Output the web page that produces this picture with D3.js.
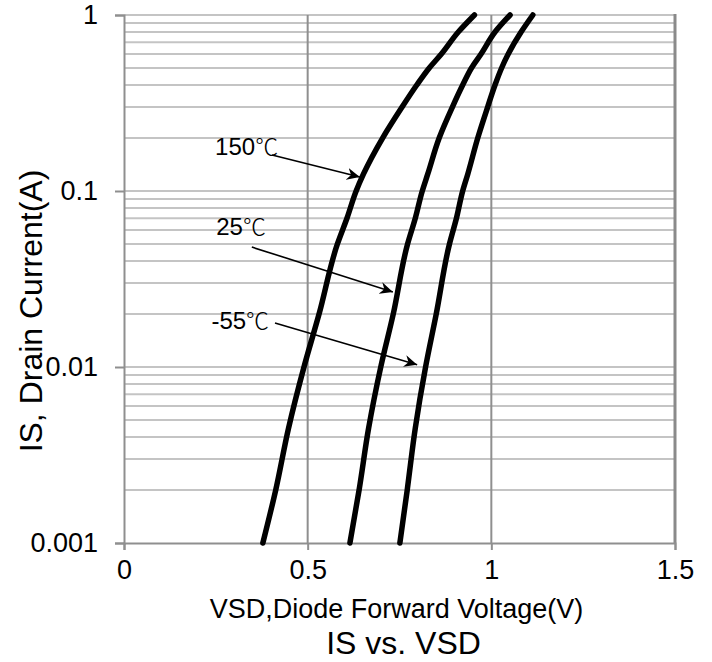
<!DOCTYPE html>
<html>
<head>
<meta charset="utf-8">
<script src="https://cdn.jsdelivr.net/npm/d3@7"></script>
<style>
  html, body { margin: 0; padding: 0; background: #fff; }
  svg { display: block; }
  text { font-family: "Liberation Sans", Arial, sans-serif; fill: #000; }
</style>
</head>
<body>
<svg id="chart" width="712" height="662"></svg>
<script>
// ---- data ----
const currents = [1, 0.8, 0.6, 0.5, 0.4, 0.3, 0.2, 0.125, 0.1, 0.07, 0.05, 0.02, 0.01, 0.0045, 0.002, 0.001];
const vsd150 = [0.954, 0.910, 0.864, 0.831, 0.797, 0.757, 0.704, 0.652, 0.632, 0.607, 0.581, 0.531, 0.490, 0.448, 0.413, 0.378];
const vsd25  = [1.051, 1.010, 0.972, 0.946, 0.922, 0.894, 0.858, 0.827, 0.812, 0.793, 0.772, 0.733, 0.699, 0.666, 0.640, 0.615];
const vsdM55 = [1.113, 1.081, 1.046, 1.028, 1.010, 0.990, 0.963, 0.936, 0.922, 0.905, 0.886, 0.850, 0.821, 0.793, 0.771, 0.751];
const seriesNames = ["150℃", "25℃", "-55℃"];
const xTicks = [0, 0.5, 1, 1.5];
const xTickLabels = ["0", "0.5", "1", "1.5"];
const yTicks = [0.001, 0.01, 0.1, 1];
const yTickLabels = ["0.001", "0.01", "0.1", "1"];
// annotation: label anchor (V, I), arrow start (V, I), arrow end (V, I)
const labelPos   = [[0.248, 0.161], [0.251, 0.056], [0.238, 0.0165]];
const arrowStart = [[0.403, 0.160], [0.348, 0.048], [0.411, 0.0178]];
const arrowEnd   = [[0.642, 0.120], [0.732, 0.0267], [0.798, 0.0103]];
const xTitle = "VSD,Diode Forward Voltage(V)";
const yTitle = "IS, Drain Current(A)";
const chartTitle = "IS vs. VSD";

const svg = d3.select("#chart");
const x = d3.scaleLinear().domain([0, 1.5]).range([124, 675]);
const y = d3.scaleLog().domain([0.001, 1]).range([543, 15]);

// minor horizontal grid
const minor = [];
[0.001, 0.01, 0.1].forEach(d => { for (let k = 2; k <= 9; k++) minor.push(d * k); });
const major = [0.01, 0.1, 1];
svg.append("g").selectAll("line").data(minor.concat(major)).join("line")
  .attr("x1", x(0)).attr("x2", x(1.5))
  .attr("y1", d => y(d)).attr("y2", d => y(d))
  .attr("stroke", "#c4c4c4").attr("stroke-width", 2);

// vertical grid
svg.append("g").selectAll("line").data([0.5, 1]).join("line")
  .attr("x1", d => x(d)).attr("x2", d => x(d))
  .attr("y1", y(1)).attr("y2", y(0.001))
  .attr("stroke", "#8f8f8f").attr("stroke-width", 2);
// right border
svg.append("line").attr("x1", x(1.5)).attr("x2", x(1.5)).attr("y1", y(1) - 1).attr("y2", y(0.001))
  .attr("stroke", "#8a8a8a").attr("stroke-width", 3);

// axes
const yAxis = d3.axisLeft(y).tickValues(yTicks).tickSize(9).tickPadding(17)
  .tickFormat((d, i) => yTickLabels[i]);
const gy = svg.append("g").attr("transform", `translate(${x(0)},0)`).call(yAxis);
gy.select(".domain").attr("stroke", "#8f8f8f").attr("stroke-width", 2);
gy.selectAll(".tick line").attr("stroke", "#8f8f8f").attr("stroke-width", 2);
gy.selectAll(".tick text").style("font-size", "27px").attr("font-family", "Liberation Sans, Arial, sans-serif");

const xAxis = d3.axisBottom(x).tickValues(xTicks).tickSize(7).tickPadding(10)
  .tickFormat((d, i) => xTickLabels[i]);
const gx = svg.append("g").attr("transform", `translate(0,${y(0.001)})`).call(xAxis);
gx.select(".domain").attr("stroke", "#8f8f8f").attr("stroke-width", 2);
gx.selectAll(".tick line").attr("stroke", "#8f8f8f").attr("stroke-width", 2);
gx.selectAll(".tick text").style("font-size", "27px").attr("font-family", "Liberation Sans, Arial, sans-serif");

// curves (x as a smooth monotone function of y)
const line = d3.line().x(d => x(d[0])).y(d => y(d[1])).curve(d3.curveMonotoneY);
[vsd150, vsd25, vsdM55].forEach(vs => {
  svg.append("path").datum(vs.map((v, i) => [v, currents[i]]))
    .attr("d", line).attr("fill", "none").attr("stroke", "#000")
    .attr("stroke-width", 5.5).attr("stroke-linecap", "round").attr("stroke-linejoin", "round");
});

// arrow marker
svg.append("defs").append("marker").attr("id", "arr")
  .attr("markerUnits", "userSpaceOnUse").attr("markerWidth", 14).attr("markerHeight", 12)
  .attr("refX", 13).attr("refY", 6).attr("orient", "auto")
  .append("path").attr("d", "M0,0 L13,6 L0,12 L4,6 Z").attr("fill", "#000");

seriesNames.forEach((name, i) => {
  svg.append("line")
    .attr("x1", x(arrowStart[i][0])).attr("y1", y(arrowStart[i][1]))
    .attr("x2", x(arrowEnd[i][0])).attr("y2", y(arrowEnd[i][1]))
    .attr("stroke", "#000").attr("stroke-width", 1.6).attr("marker-end", "url(#arr)");
  const t = svg.append("text").attr("x", x(labelPos[i][0])).attr("y", y(labelPos[i][1]))
    .style("font-size", "24px");
  t.append("tspan").text(name.replace("℃", ""));
  t.append("tspan").text("℃").attr("font-family", "Noto Sans CJK SC, DejaVu Sans, sans-serif")
    .style("font-weight", 300).style("font-size", "23px");
});

// titles
svg.append("text").attr("x", (x(0) + x(1.5)) / 2 - 3).attr("y", 618).attr("text-anchor", "middle")
  .style("font-size", "27px").text(xTitle);
svg.append("text").attr("x", (x(0) + x(1.5)) / 2 + 4).attr("y", 654).attr("text-anchor", "middle")
  .style("font-size", "32px").text(chartTitle);
svg.append("text").attr("transform", `translate(42,${(y(1) + y(0.001)) / 2 + 32}) rotate(-90)`)
  .attr("text-anchor", "middle").style("font-size", "32px").text(yTitle);
</script>
</body>
</html>
